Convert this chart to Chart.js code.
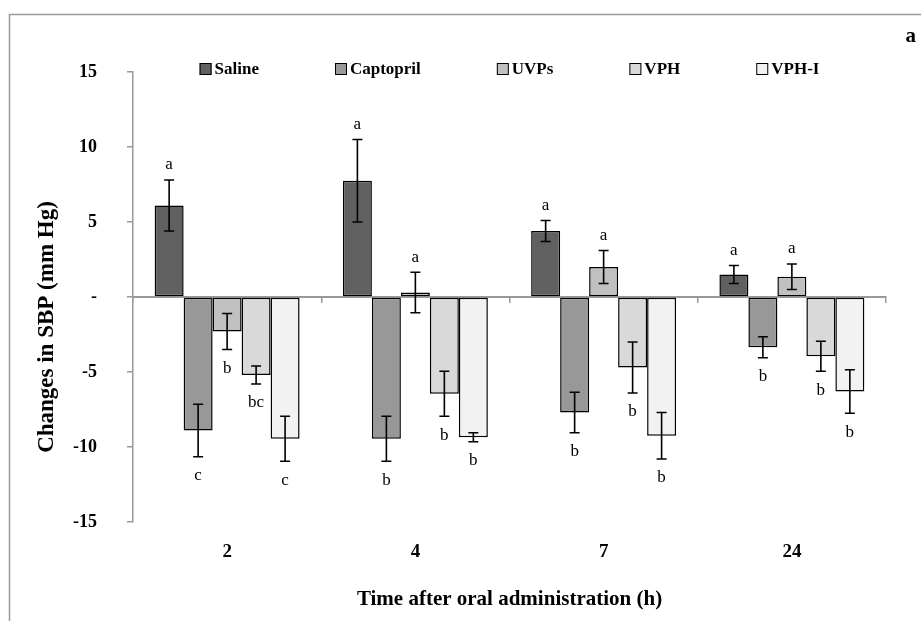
<!DOCTYPE html>
<html><head><meta charset="utf-8">
<script src="https://cdn.jsdelivr.net/npm/chart.js@4.4.1/dist/chart.umd.min.js"></script>
<style>html,body{margin:0;padding:0;background:#fff;}#wrap{width:921px;height:621px;}</style>
</head><body><div id="wrap"><canvas id="c" width="921" height="621"></canvas></div>
<script>
// ---- data ----
const categories = ['2', '4', '7', '24'];
const seriesNames = ['Saline', 'Captopril', 'UVPs', 'VPH', 'VPH-I'];
const saline      = [6.1, 7.75, 4.4, 1.5];
const salineErr   = [1.7, 2.75, 0.7, 0.6];
const salineSig   = ['a', 'a', 'a', 'a'];
const captopril    = [-8.9, -9.45, -7.7, -3.35];
const captoprilErr = [1.75, 1.5, 1.35, 0.7];
const captoprilSig = ['c', 'b', 'b', 'b'];
const uvps    = [-2.3, 0.3, 2.0, 1.35];
const uvpsErr = [1.2, 1.35, 1.1, 0.85];
const uvpsSig = ['b', 'a', 'a', 'a'];
const vph    = [-5.2, -6.45, -4.7, -3.95];
const vphErr = [0.6, 1.5, 1.7, 1.0];
const vphSig = ['bc', 'b', 'b', 'b'];
const vphi    = [-9.45, -9.35, -9.25, -6.3];
const vphiErr = [1.5, 0.3, 1.55, 1.45];
const vphiSig = ['c', 'b', 'b', 'b'];
const yMin = -15, yMax = 15, yStep = 5;
const xTitle = 'Time after oral administration (h)';
const yTitle = 'Changes in SBP (mm Hg)';
const panelLabel = 'a';

// ---- styles ----
const SERIF = "'Liberation Serif', 'Times New Roman', serif";
const fills = ['#606060', '#989898', '#c0c0c0', '#d9d9d9', '#f2f2f2'];
const axisGray = '#999999';

const values = [saline, captopril, uvps, vph, vphi];
const errs = [salineErr, captoprilErr, uvpsErr, vphErr, vphiErr];
const sigs = [salineSig, captoprilSig, uvpsSig, vphSig, vphiSig];

const datasets = seriesNames.map((name, i) => ({
  label: name,
  data: values[i],
  errors: errs[i],
  sig: sigs[i],
  backgroundColor: fills[i],
  borderColor: '#000',
  borderWidth: 1.5,
  borderSkipped: false
}));

const decorPlugin = {
  id: 'decor',
  beforeDraw(chart) {
    const ctx = chart.ctx;
    ctx.save();
    ctx.fillStyle = '#fff';
    ctx.fillRect(0, 0, chart.width, chart.height);
    ctx.strokeStyle = axisGray;
    ctx.lineWidth = 1.5;
    ctx.strokeRect(9.5, 14.5, 1000, 1000);
    ctx.restore();
  },
  afterDraw(chart) {
    const ctx = chart.ctx;
    const y = chart.scales.y;
    const area = chart.chartArea;
    ctx.save();
    // error bars + significance letters
    chart.data.datasets.forEach((ds, di) => {
      const meta = chart.getDatasetMeta(di);
      meta.data.forEach((bar, i) => {
        const v = ds.data[i], e = ds.errors[i];
        const yHi = y.getPixelForValue(v + e);
        const yLo = y.getPixelForValue(v - e);
        const x = bar.x;
        ctx.strokeStyle = '#000';
        ctx.lineWidth = 1.6;
        ctx.beginPath();
        ctx.moveTo(x, yHi); ctx.lineTo(x, yLo);
        ctx.moveTo(x - 5, yHi); ctx.lineTo(x + 5, yHi);
        ctx.moveTo(x - 5, yLo); ctx.lineTo(x + 5, yLo);
        ctx.stroke();
        ctx.fillStyle = '#000';
        ctx.font = '17px ' + SERIF;
        ctx.textAlign = 'center';
        ctx.textBaseline = 'middle';
        if (v >= 0) ctx.fillText(ds.sig[i], x, yHi - 15);
        else ctx.fillText(ds.sig[i], x, yLo + 19);
      });
    });
    // legend
    ctx.font = 'bold 17px ' + SERIF;
    ctx.textAlign = 'left';
    ctx.textBaseline = 'middle';
    const box = 12, gap = 76, ly = 69;
    const widths = chart.data.datasets.map(d => ctx.measureText(d.label).width + box + 3);
    const total = widths.reduce((a, b) => a + b, 0) + gap * (widths.length - 1);
    let lx = (area.left + area.right) / 2 - total / 2;
    chart.data.datasets.forEach((d, i) => {
      ctx.fillStyle = d.backgroundColor;
      ctx.fillRect(lx, ly - box / 2, box, box);
      ctx.strokeStyle = '#000';
      ctx.lineWidth = 1;
      ctx.strokeRect(lx + 0.5, ly - box / 2 + 0.5, box - 1, box - 1);
      ctx.fillStyle = '#000';
      ctx.fillText(d.label, lx + box + 3, ly + 1);
      lx += widths[i] + gap;
    });
    // y-axis title
    ctx.save();
    ctx.translate(47, 327);
    ctx.rotate(-Math.PI / 2);
    ctx.font = 'bold 23px ' + SERIF;
    ctx.textAlign = 'center';
    ctx.textBaseline = 'middle';
    ctx.fillText(yTitle, 0, 0);
    ctx.restore();
    // panel label
    ctx.font = 'bold 21px ' + SERIF;
    ctx.textAlign = 'right';
    ctx.textBaseline = 'middle';
    ctx.fillText(panelLabel, 916, 37);
    ctx.restore();
  }
};

new Chart(document.getElementById('c'), {
  type: 'bar',
  data: { labels: categories, datasets },
  plugins: [decorPlugin],
  options: {
    responsive: false,
    animation: false,
    devicePixelRatio: 1,
    layout: { padding: { left: 30, right: 35, top: 72, bottom: 0 } },
    datasets: { bar: { categoryPercentage: 0.77, barPercentage: 1 } },
    plugins: { legend: { display: false }, tooltip: { enabled: false }, title: { display: false } },
    scales: {
      x: {
        type: 'category',
        position: 'bottom',
        grid: { display: false, drawTicks: false },
        border: { display: false },
        ticks: { padding: 19, color: '#000', font: { family: SERIF, size: 19, weight: 'bold' } },
        title: { display: true, text: xTitle, color: '#000', font: { family: SERIF, size: 21, weight: 'bold' }, padding: { top: 0, bottom: 9 } },
        afterFit(s) { s.height = 99; }
      },
      x0: {
        axis: 'x',
        type: 'category',
        labels: categories,
        position: { y: 0 },
        z: 1,
        ticks: { display: false },
        grid: { offset: true, drawOnChartArea: false, drawTicks: true, tickLength: 5, color: axisGray, lineWidth: 1.5 },
        border: { display: true, color: axisGray, width: 2 }
      },
      y: {
        min: yMin, max: yMax,
        ticks: {
          stepSize: yStep, padding: 30, color: '#000',
          font: { family: SERIF, size: 18, weight: 'bold' },
          callback: v => (v === 0 ? '-' : v)
        },
        grid: { drawOnChartArea: false, drawTicks: true, tickLength: 6, color: axisGray, lineWidth: 1.5 },
        border: { display: true, color: axisGray, width: 1.5 },
        afterFit(s) { s.width = 103; }
      }
    }
  }
});
</script>
</body></html>
